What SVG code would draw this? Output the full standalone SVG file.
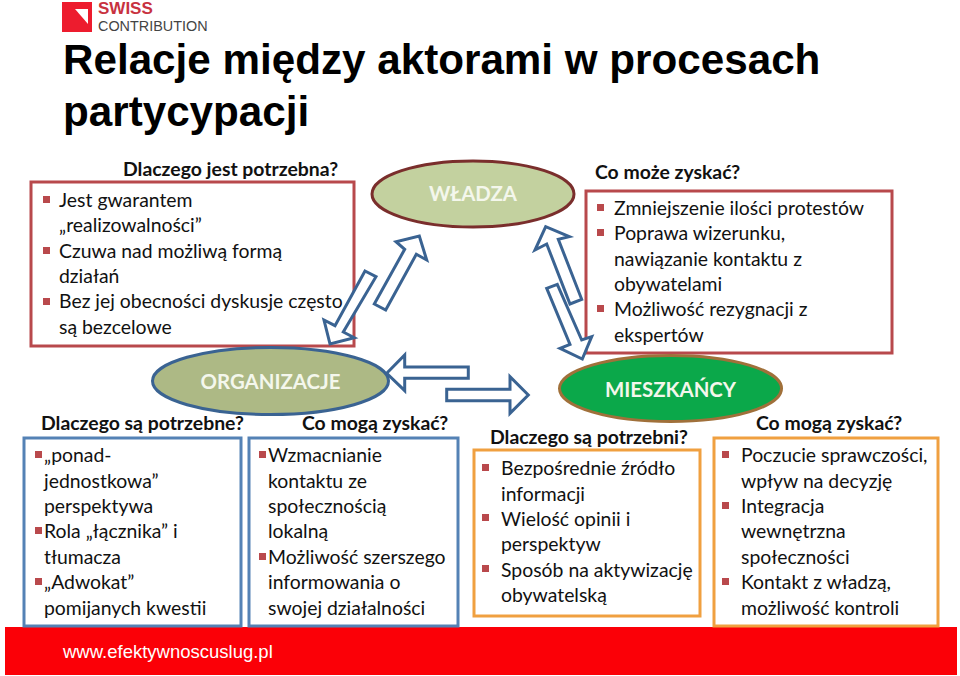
<svg xmlns="http://www.w3.org/2000/svg" width="960" height="676" viewBox="0 0 960 676">
<style>
text{font-family:Lato,"Open Sans",sans-serif;fill:#111}
.b{font-size:19.4px}
.h{font-size:19.4px;font-weight:700}
.t{font-family:"Liberation Sans",Arial,sans-serif;font-size:42.2px;font-weight:700;fill:#000}
.red{fill:#fff;stroke:#b8494c;stroke-width:3}
.blue{fill:#fff;stroke:#5482b5;stroke-width:3}
.org{fill:#fff;stroke:#f0a040;stroke-width:3}
.arr{fill:#fff;stroke:#3a6392;stroke-width:3}
.e{font-size:20.4px;font-weight:700;fill:#f4f7ec}
</style>
<defs><rect id="sq" width="7" height="7" fill="#b9494c"/></defs>
<g id="logo">
<rect x="62" y="2" width="30" height="30" fill="#ed1c2e"/>
<polygon points="75,9 88,9 88,24" fill="#fff"/>
<text x="98" y="14" style="font-family:'Liberation Sans';font-weight:700;font-size:17px;fill:#c8323f">SWISS</text>
<text x="98" y="31" style="font-family:'Liberation Sans';font-size:14.4px;fill:#444">CONTRIBUTION</text>
</g>
<g id="title">
<text class="t" x="63" y="74">Relacje między aktorami w procesach</text>
<text class="t" x="63" y="126">partycypacji</text>
</g>
<g id="box-wladza-needs">
<text class="h" x="123" y="176">Dlaczego jest potrzebna?</text>
<rect class="red" x="31" y="182" width="323" height="164"/>
<use href="#sq" x="43" y="196"/><use href="#sq" x="43" y="247"/><use href="#sq" x="43" y="298"/>
<text class="b" x="59" y="207">Jest gwarantem</text>
<text class="b" x="59" y="232">„realizowalności”</text>
<text class="b" x="59" y="258">Czuwa nad możliwą formą</text>
<text class="b" x="59" y="283">działań</text>
<text class="b" x="59" y="308">Bez jej obecności dyskusje często</text>
<text class="b" x="59" y="334">są bezcelowe</text>
</g>
<g id="wladza">
<ellipse cx="473" cy="194" rx="101" ry="33" fill="#c3d19f" stroke="#7a2e2c" stroke-width="3"/>
<text class="e" x="473" y="201" text-anchor="middle">WŁADZA</text>
</g>
<g id="box-wladza-gains">
<text class="h" x="595" y="179">Co może zyskać?</text>
<rect class="red" x="586" y="191" width="306" height="162"/>
<use href="#sq" x="597" y="204"/><use href="#sq" x="597" y="229"/><use href="#sq" x="597" y="305"/>
<text class="b" x="614" y="215">Zmniejszenie ilości protestów</text>
<text class="b" x="614" y="240">Poprawa wizerunku,</text>
<text class="b" x="614" y="266">nawiązanie kontaktu z</text>
<text class="b" x="614" y="291">obywatelami</text>
<text class="b" x="614" y="316">Możliwość rezygnacji z</text>
<text class="b" x="614" y="342">ekspertów</text>
</g>
<g id="organizacje">
<ellipse cx="270.5" cy="381" rx="118" ry="33.500" fill="#adb985" stroke="#3a6392" stroke-width="3"/>
<text class="e" x="270.500" y="389" text-anchor="middle">ORGANIZACJE</text>
</g>
<g id="mieszkancy">
<ellipse cx="670.500" cy="388.500" rx="111" ry="33" fill="#0ba84a" stroke="#a0703a" stroke-width="3"/>
<text class="e" x="670.500" y="397" text-anchor="middle">MIESZKAŃCY</text>
</g>
<g id="connectors">
<polygon class="arr" points="374.3,304 404.7,249.3 396,241.7 419.3,236 426.7,260 416.3,254.3 385.7,310"/>
<polygon class="arr" points="365,271 376,276.7 343.3,332 354.3,337.7 330,344 324,320 335,325.7"/>
<polygon class="arr" points="545.7,226.7 535,250 546.7,244 570,304 581.7,299.3 558.3,239.3 569.3,236.7"/>
<polygon class="arr" points="546.7,288.3 557.3,284.3 581.7,340 591.7,336.7 582.3,359 560,348.3 570,344.3"/>
<polygon class="arr" points="386.7,373.3 404.7,355 404.7,367 468.3,367 468.3,378.3 404.7,378.3 404.7,390.7"/>
<polygon class="arr" points="446.7,389.3 446.7,400.7 510,400.7 510,413.3 528.3,395 510,376.7 510,389.3"/>
</g>
<g id="footer">
<rect x="5" y="627" width="952" height="48" fill="#fb0007"/>
<text x="63" y="658" style="font-family:'Liberation Sans';font-size:18.5px;fill:#fff">www.efektywnoscuslug.pl</text>
</g>
<g id="box-org-needs">
<text class="h" x="41" y="430">Dlaczego są potrzebne?</text>
<rect class="blue" x="24" y="438" width="217" height="188"/>
<use href="#sq" x="35" y="451"/><use href="#sq" x="35" y="527"/><use href="#sq" x="35" y="578"/>
<text class="b" x="44" y="462">„ponad-</text>
<text class="b" x="44" y="488">jednostkowa”</text>
<text class="b" x="44" y="513">perspektywa</text>
<text class="b" x="44" y="538">Rola „łącznika” i</text>
<text class="b" x="44" y="564">tłumacza</text>
<text class="b" x="44" y="589">„Adwokat”</text>
<text class="b" x="44" y="615">pomijanych kwestii</text>
</g>
<g id="box-org-gains">
<text class="h" x="302" y="430">Co mogą zyskać?</text>
<rect class="blue" x="249" y="438" width="209" height="188"/>
<use href="#sq" x="259" y="451"/><use href="#sq" x="259" y="553"/>
<text class="b" x="268" y="462">Wzmacnianie</text>
<text class="b" x="268" y="488">kontaktu ze</text>
<text class="b" x="268" y="513">społecznością</text>
<text class="b" x="268" y="538">lokalną</text>
<text class="b" x="268" y="564">Możliwość szerszego</text>
<text class="b" x="268" y="589">informowania o</text>
<text class="b" x="268" y="615">swojej działalności</text>
</g>
<g id="box-res-needs">
<text class="h" x="490" y="444">Dlaczego są potrzebni?</text>
<rect class="org" x="474" y="450" width="226" height="166"/>
<use href="#sq" x="482" y="464"/><use href="#sq" x="482" y="514"/><use href="#sq" x="482" y="565"/>
<text class="b" x="501" y="475">Bezpośrednie źródło</text>
<text class="b" x="501" y="501">informacji</text>
<text class="b" x="501" y="526">Wielość opinii i</text>
<text class="b" x="501" y="551">perspektyw</text>
<text class="b" x="501" y="577">Sposób na aktywizację</text>
<text class="b" x="501" y="602">obywatelską</text>
</g>
<g id="box-res-gains">
<text class="h" x="756" y="430">Co mogą zyskać?</text>
<rect class="org" x="714" y="438" width="224" height="188"/>
<use href="#sq" x="722" y="451"/><use href="#sq" x="722" y="502"/><use href="#sq" x="722" y="578"/>
<text class="b" x="741" y="462">Poczucie sprawczości,</text>
<text class="b" x="741" y="488">wpływ na decyzję</text>
<text class="b" x="741" y="513">Integracja</text>
<text class="b" x="741" y="538">wewnętrzna</text>
<text class="b" x="741" y="564">społeczności</text>
<text class="b" x="741" y="589">Kontakt z władzą,</text>
<text class="b" x="741" y="615">możliwość kontroli</text>
</g>
</svg>
